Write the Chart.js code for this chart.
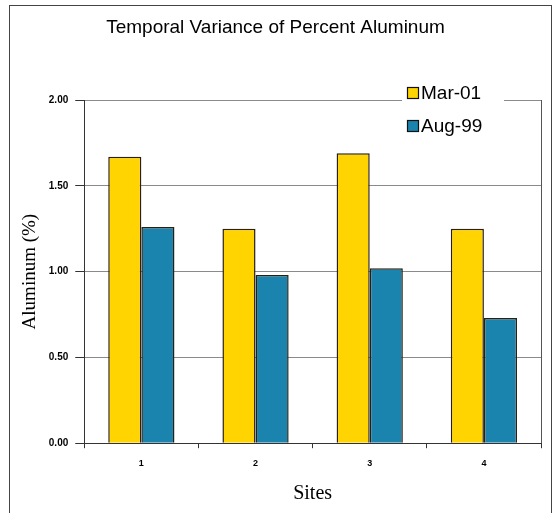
<!DOCTYPE html>
<html>
<head>
<meta charset="utf-8">
<script src="https://cdn.jsdelivr.net/npm/chart.js@4/dist/chart.umd.min.js"></script>
<style>
  html, body { margin: 0; padding: 0; background: #fff; }
  #wrap { width: 554px; height: 513px; position: relative; }
</style>
</head>
<body>
<div id="wrap"><canvas id="c" width="554" height="513"></canvas></div>
<script>
const categories = ['1', '2', '3', '4'];
const seriesNames = ['Mar-01', 'Aug-99'];
const mar01 = [1.67, 1.25, 1.69, 1.25];
const aug99 = [1.26, 0.98, 1.02, 0.73];
const yTicks = [0, 0.5, 1.0, 1.5, 2.0];

const YELLOW = '#FFD400';
const TEAL = '#1A83AE';
const EDGE = '#2b1f10';

const framePlugin = {
  id: 'frame',
  beforeDraw(chart) {
    const ctx = chart.ctx;
    ctx.save();
    ctx.fillStyle = '#fff';
    ctx.fillRect(0, 0, chart.width, chart.height);
    ctx.strokeStyle = '#444';
    ctx.lineWidth = 1;
    ctx.strokeRect(9.5, 5.5, 542, 520);
    ctx.restore();
  },
  afterDraw(chart) {
    const ctx = chart.ctx;
    const a = chart.chartArea;
    ctx.save();
    // right border of plot area
    ctx.strokeStyle = '#555';
    ctx.lineWidth = 1;
    ctx.beginPath();
    ctx.moveTo(Math.round(a.right) + 0.5, a.top);
    ctx.lineTo(Math.round(a.right) + 0.5, a.bottom);
    ctx.stroke();
    // legend
    const lx = 402, ly = 84, w = 102, h = 52;
    ctx.fillStyle = '#fff';
    ctx.fillRect(lx, ly, w, h);
    ctx.font = '19px Arial, "Liberation Sans", sans-serif';
    ctx.textBaseline = 'middle';
    ctx.textAlign = 'left';
    chart.data.datasets.forEach((ds, i) => {
      const cy = 93 + i * 33;
      ctx.fillStyle = ds.backgroundColor;
      ctx.fillRect(407.5, cy - 5.5, 11, 11);
      ctx.strokeStyle = '#111';
      ctx.lineWidth = 1.2;
      ctx.strokeRect(407.5, cy - 5.5, 11, 11);
      ctx.fillStyle = '#000';
      ctx.fillText(ds.label, 421, cy + 1);
    });
    ctx.restore();
  }
};

new Chart(document.getElementById('c'), {
  type: 'bar',
  data: {
    labels: categories,
    datasets: [
      { label: seriesNames[0], data: mar01, backgroundColor: YELLOW, borderColor: EDGE, borderWidth: 1.5 },
      { label: seriesNames[1], data: aug99, backgroundColor: TEAL, borderColor: EDGE, borderWidth: 1.5 }
    ]
  },
  options: {
    responsive: false,
    animation: false,
    devicePixelRatio: 1,
    layout: { padding: { left: 10, right: 13, top: 0, bottom: 7 } },
    datasets: { bar: { categoryPercentage: 0.58, barPercentage: 1.0 } },
    plugins: {
      legend: { display: false },
      tooltip: { enabled: false },
      title: {
        display: true,
        text: 'Temporal Variance of Percent Aluminum',
        color: '#000',
        font: { family: 'Arial, "Liberation Sans", sans-serif', size: 19, weight: 'normal' },
        padding: { top: 16.6, bottom: 60.6 }
      }
    },
    scales: {
      x: {
        grid: { display: true, drawOnChartArea: false, drawTicks: true, tickLength: 5, color: '#333', offset: true },
        border: { display: true, color: '#333', width: 1 },
        ticks: { color: '#000', padding: 10, font: { family: 'Arial, "Liberation Sans", sans-serif', size: 9, weight: 'bold' } },
        title: {
          display: true, text: 'Sites', color: '#000',
          font: { family: '"Times New Roman", "Liberation Serif", serif', size: 20 },
          padding: { top: 3, bottom: 0 }
        }
      },
      y: {
        min: 0, max: 2,
        afterBuildTicks(scale) { scale.ticks = yTicks.map(v => ({ value: v })); },
        grid: { color: '#8a8a8a', lineWidth: 1, drawTicks: true, tickLength: 9, tickColor: '#333' },
        border: { display: true, color: '#333', width: 1 },
        ticks: {
          color: '#000', padding: 7,
          font: { family: 'Arial, "Liberation Sans", sans-serif', size: 10, weight: 'bold' },
          callback: v => Number(v).toFixed(2)
        },
        title: {
          display: true, text: 'Aluminum (%)', color: '#000',
          font: { family: '"Times New Roman", "Liberation Serif", serif', size: 19 },
          padding: { top: 9, bottom: 0 }
        }
      }
    }
  },
  plugins: [framePlugin]
});
</script>
</body>
</html>
